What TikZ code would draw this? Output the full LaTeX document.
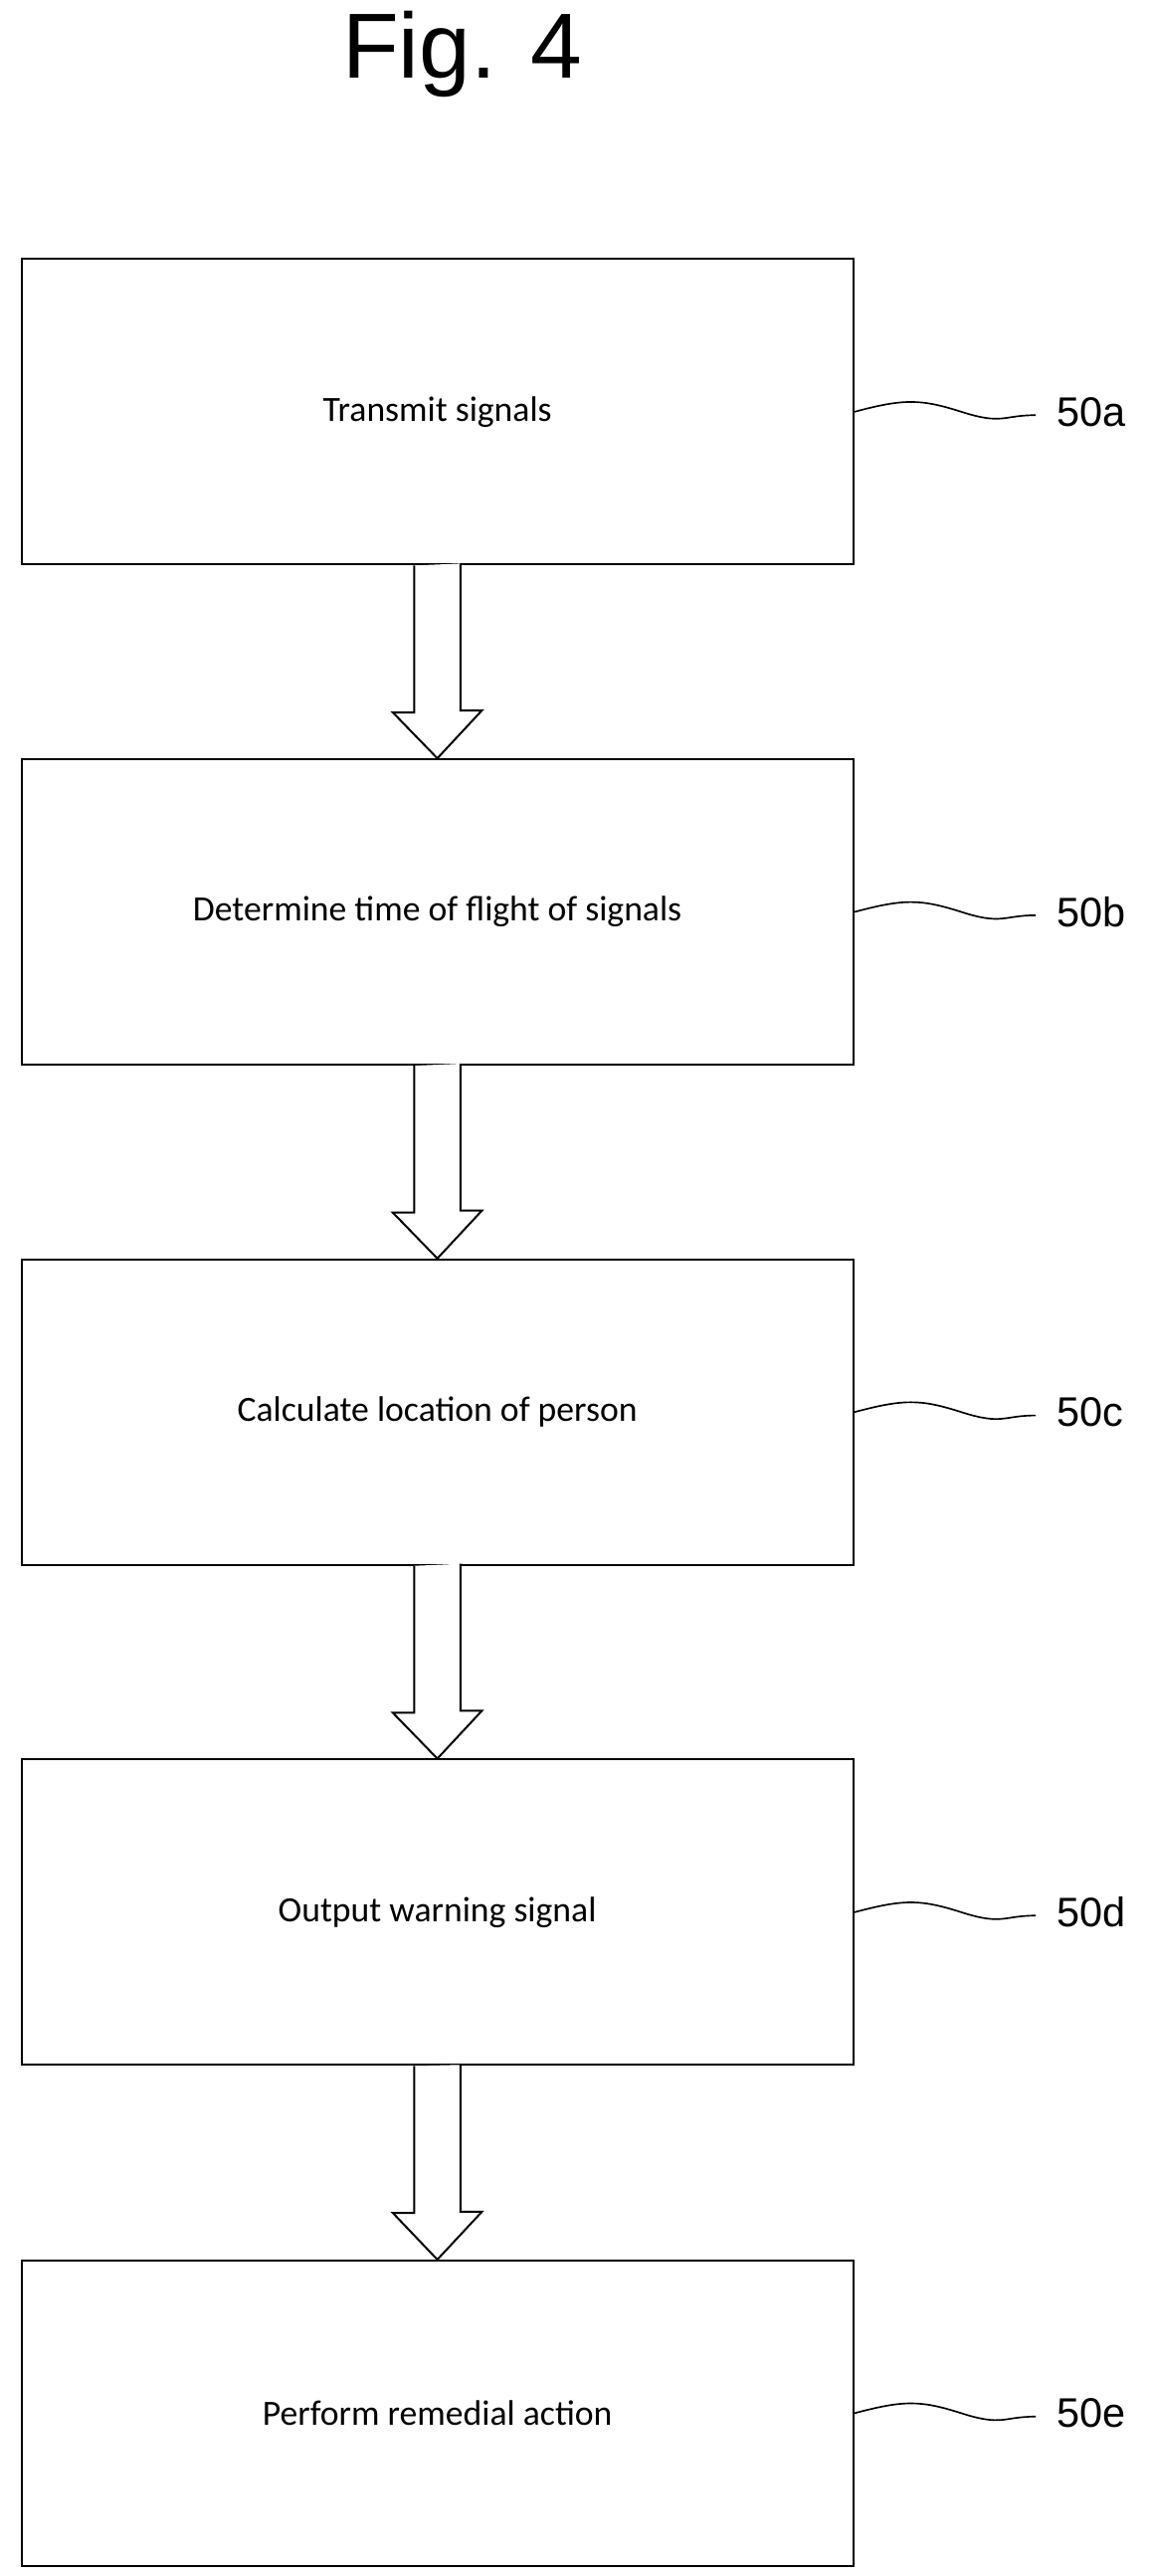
\documentclass[tikz,border=0pt]{standalone}
\usepackage{fontspec}
\setmainfont{Carlito}
\newfontfamily\arialf{Liberation Sans}
\begin{document}
\begin{tikzpicture}[x=1pt,y=-1pt,
  box/.style={draw,line width=1.2pt,minimum width=504pt,minimum height=185pt,inner sep=0pt,font=\fontsize{21.5}{24}\selectfont},
  lbl/.style={font=\arialf\fontsize{25}{28}\selectfont,anchor=west},
  sq/.style={line width=1pt}]
\useasboundingbox (0,0) rectangle (697,1560.6);
\node[font=\arialf\fontsize{56}{60}\selectfont] (title) at (280,33) {Fig. 4};
\foreach \n/\y/\t/\l in {a/249.5/Transmit signals/50a, b/552.5/Determine time of flight of signals/50b, c/855.5/Calculate location of person/50c, d/1158.5/Output warning signal/50d, e/1462/Perform remedial action/50e}{
  \node[box] (b\n) at (265,\y) {\t};
  \node[lbl] (l\n) at (637,\y) {\l};
  \draw[sq] (b\n.east) .. controls +(30,-8) and +(-25,-8) .. ++(65,0) .. controls +(25,8) and +(-20,0) .. ++(45,2);
}
\foreach \a/\b in {a/b,b/c,c/d,d/e}{
  \draw[line width=1.2pt,fill=white] (b\a.south) ++(-14,0) coordinate (s\a)
    -- ++(0,89) -- ++(-13,0) -- (b\b.north) -- ++(27,-29) -- ++(-13,0) -- ++(0,-89);
}
\end{tikzpicture}
\end{document}
